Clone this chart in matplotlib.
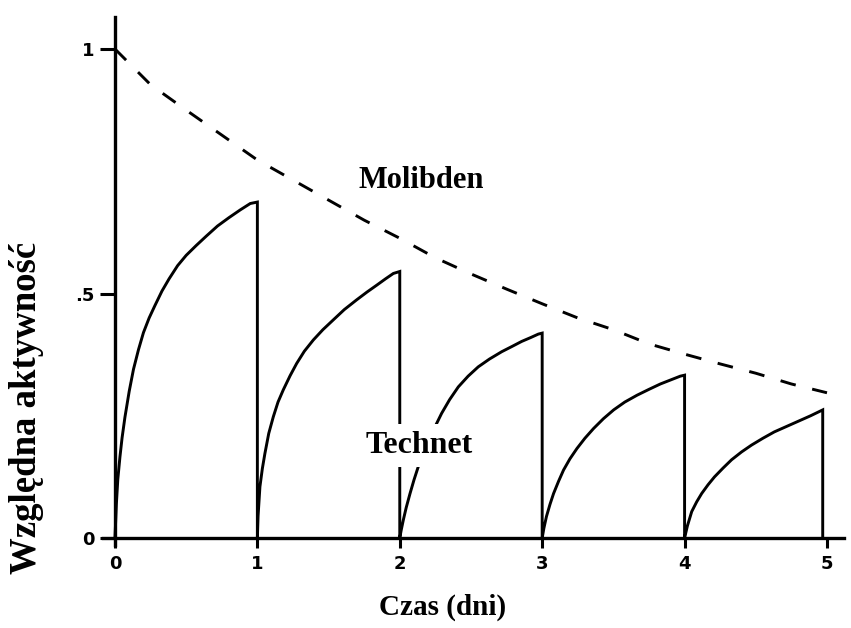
import matplotlib
matplotlib.use("Agg")
import matplotlib.pyplot as plt

# ---- data ----
mo_t = [0, 0.25, 0.5, 0.75, 1, 1.25, 1.5, 1.75, 2, 2.25, 2.5, 2.75, 3,
        3.25, 3.5, 3.75, 4, 4.25, 4.5, 4.75, 5]
mo_y = [1.0, 0.927, 0.875, 0.824, 0.773, 0.732, 0.691, 0.650, 0.613, 0.573,
        0.540, 0.509, 0.479, 0.450, 0.426, 0.397, 0.376, 0.356, 0.337, 0.315,
        0.297]

tc1_t = [0, 0.01, 0.02, 0.035, 0.05, 0.07, 0.10, 0.13, 0.165, 0.2, 0.24, 0.28,
         0.33, 0.38, 0.44, 0.5, 0.57, 0.64, 0.72, 0.8, 0.88, 0.95, 1.0, 1.0]
tc1_y = [0, 0.07, 0.12, 0.166, 0.205, 0.247, 0.30, 0.345, 0.385, 0.42, 0.45,
         0.475, 0.505, 0.53, 0.557, 0.578, 0.598, 0.617, 0.638, 0.655, 0.671,
         0.684, 0.687, 0]

tc2_t = [1.0, 1.005, 1.018, 1.035, 1.053, 1.08, 1.112, 1.145, 1.182, 1.23,
         1.276, 1.33, 1.393, 1.46, 1.533, 1.61, 1.697, 1.77, 1.838, 1.9, 1.955,
         2.0, 2.0]
tc2_y = [0, 0.045, 0.105, 0.142, 0.173, 0.214, 0.248, 0.278, 0.303, 0.332,
         0.357, 0.382, 0.405, 0.426, 0.446, 0.467, 0.487, 0.503, 0.517, 0.530,
         0.541, 0.545, 0]

tc3_t = [2.0, 2.01, 2.025, 2.045, 2.072, 2.1, 2.13, 2.165, 2.2, 2.245, 2.294,
         2.35, 2.411, 2.48, 2.551, 2.63, 2.716, 2.79, 2.856, 2.92, 2.973, 3.0,
         3.0]
tc3_y = [0, 0.016, 0.037, 0.062, 0.091, 0.119, 0.146, 0.171, 0.194, 0.226,
         0.255, 0.283, 0.309, 0.331, 0.350, 0.366, 0.381, 0.392, 0.402, 0.410,
         0.417, 0.419, 0]

tc4_t = [3.0, 3.012, 3.03, 3.055, 3.08, 3.115, 3.15, 3.195, 3.244, 3.3, 3.361,
         3.43, 3.502, 3.58, 3.666, 3.75, 3.83, 3.9, 3.97, 4.0, 4.0]
tc4_y = [0, 0.02, 0.044, 0.069, 0.091, 0.116, 0.139, 0.162, 0.183, 0.204,
         0.224, 0.244, 0.262, 0.278, 0.292, 0.304, 0.315, 0.323, 0.331, 0.333, 0]

tc5_t = [4.0, 4.02, 4.05, 4.085, 4.12, 4.165, 4.21, 4.27, 4.33, 4.4, 4.47,
         4.55, 4.63, 4.715, 4.80, 4.885, 4.97, 4.97]
tc5_y = [0, 0.025, 0.054, 0.074, 0.091, 0.109, 0.125, 0.143, 0.160, 0.176,
         0.190, 0.204, 0.217, 0.228, 0.239, 0.250, 0.262, 0]

x_ticks = [0, 1, 2, 3, 4, 5]
x_tick_labels = ["0", "1", "2", "3", "4", "5"]
y_ticks = [0, 0.5, 1]
y_tick_labels = ["0", ".5", "1"]

label_mo = "Molibden"
label_tc = "Technet"
x_label = "Czas (dni)"
y_label = "Względna aktywność"

# ---- figure ----
W, H = 851, 628
fig = plt.figure(figsize=(W / 100, H / 100), dpi=100)
fig.patch.set_facecolor("white")
ax = fig.add_axes([103 / W, 80.2 / H, 742.5 / W, 530.6 / H])
ax.set_xlim(-0.084, 5.13)
ax.set_ylim(-0.02, 1.065)

tc_t = tc1_t + tc2_t + tc3_t + tc4_t + tc5_t
tc_y = tc1_y + tc2_y + tc3_y + tc4_y + tc5_y

ax.plot(tc_t, tc_y, color="black", lw=2.1, solid_joinstyle="miter", zorder=3)
ax.plot(mo_t, mo_y, color="black", lw=2.1, linestyle=(0, (5.4, 5.8)),
        dash_capstyle="butt", zorder=3)

for s in ["top", "right"]:
    ax.spines[s].set_visible(False)
ax.spines["left"].set_position(("data", 0))
ax.spines["bottom"].set_position(("data", 0))
ax.spines["left"].set_bounds(-0.014, 1.065)
ax.spines["bottom"].set_bounds(-0.084, 5.12)
for s in ["left", "bottom"]:
    ax.spines[s].set_linewidth(2.4)
    ax.spines[s].set_zorder(4)

ax.set_xticks(x_ticks)
ax.set_xticklabels(x_tick_labels)
ax.set_yticks(y_ticks)
ax.set_yticklabels(y_tick_labels)
ax.tick_params(axis="x", direction="out", length=7, width=2.2, pad=5,
               labelsize=13)
ax.tick_params(axis="y", direction="out", length=11, width=2.2, pad=4,
               labelsize=13)
for lab in ax.get_xticklabels() + ax.get_yticklabels():
    lab.set_fontweight("bold")
    lab.set_fontfamily("DejaVu Sans")

serif = ["Liberation Serif", "DejaVu Serif"]
ax.text(2.152, 0.732, label_mo, fontsize=22, fontweight="bold",
        family=serif, ha="center", va="center", zorder=5)
ax.text(2.135, 0.19, label_tc, fontsize=23, fontweight="bold",
        family=serif, ha="center", va="center", zorder=5,
        bbox=dict(facecolor="white", edgecolor="none", pad=5))

fig.text(443 / W, 1 - 607 / H, x_label, fontsize=21, fontweight="bold",
         family=serif, ha="center", va="center")
fig.text(27 / W, 1 - 408 / H, y_label, fontsize=26.5, fontweight="bold",
         family=serif, ha="center", va="center", rotation=90)

fig.savefig("out.png", dpi=100, facecolor="white")
